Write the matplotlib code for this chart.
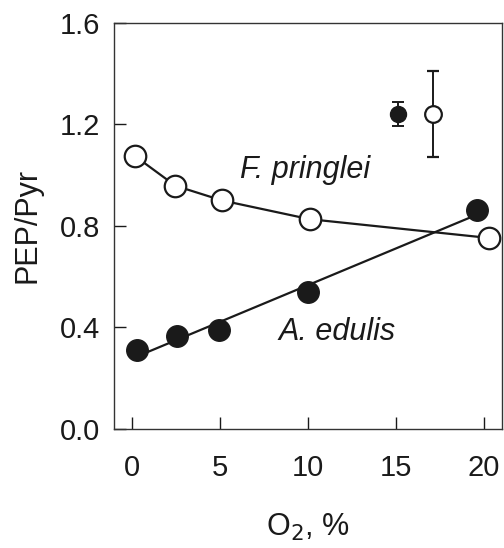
import numpy as np
import matplotlib
matplotlib.use("Agg")
import matplotlib.pyplot as plt

plt.rcParams["font.family"] = ["Liberation Sans", "DejaVu Sans"]

# F. pringlei (open circles)
fp_o2 = [0.15, 2.45, 5.1, 10.1, 20.3]
fp_ratio = [1.075, 0.958, 0.90, 0.826, 0.752]
# A. edulis (filled circles)
ae_o2 = [0.25, 2.55, 4.95, 10.0, 19.6]
ae_ratio = [0.308, 0.364, 0.389, 0.54, 0.862]
# separate points with error bars
err_o2 = [15.1, 17.1]
err_ratio = [1.24, 1.24]
err_sd = [0.048, 0.17]

fig = plt.figure(figsize=(5.04, 5.48), dpi=100)
ax = fig.add_axes([0.226, 0.218, 0.77, 0.74])

# linear fit for A. edulis
b, a = np.polyfit(ae_o2, ae_ratio, 1)
xfit = np.array([ae_o2[0], ae_o2[-1]])
ax.plot(xfit, a + b * xfit, color="#1a1a1a", lw=1.6, zorder=1)
ax.plot(fp_o2, fp_ratio, color="#1a1a1a", lw=1.6, zorder=1)

ax.plot(ae_o2, ae_ratio, "o", ms=15.5, mfc="#1a1a1a", mec="#1a1a1a", zorder=3)
ax.plot(fp_o2, fp_ratio, "o", ms=15.5, mfc="white", mec="#1a1a1a", mew=1.6, zorder=3)

ax.errorbar(err_o2[0], err_ratio[0], yerr=err_sd[0], fmt="o", ms=11.5,
            mfc="#1a1a1a", mec="#1a1a1a", ecolor="#1a1a1a", elinewidth=1.4,
            capsize=4.5, capthick=1.4, zorder=3)
ax.errorbar(err_o2[1], err_ratio[1], yerr=err_sd[1], fmt="o", ms=12,
            mfc="white", mec="#1a1a1a", mew=1.6, ecolor="#1a1a1a", elinewidth=1.4,
            capsize=4.5, capthick=1.4, zorder=3)

ax.text(6.13, 0.988, "F. pringlei", fontsize=22, style="italic", color="#1a1a1a")
ax.text(8.3, 0.348, "A. edulis", fontsize=22, style="italic", color="#1a1a1a")

ax.set_xlim(-1.05, 21.05)
ax.set_ylim(0, 1.6)
ax.set_xticks([0, 5, 10, 15, 20])
ax.set_yticks([0.0, 0.4, 0.8, 1.2, 1.6])
ax.set_yticklabels(["0.0", "0.4", "0.8", "1.2", "1.6"])
ax.tick_params(direction="in", length=8.5, width=1.0, labelsize=21,
               color="#1a1a1a", labelcolor="#1a1a1a")
ax.tick_params(axis="x", pad=18)
ax.tick_params(axis="y", pad=10)
for s in ax.spines.values():
    s.set_linewidth(1.0)
    s.set_color("#333333")

ax.set_xlabel("O$_2$, %", fontsize=22, color="#1a1a1a", labelpad=22)
ax.set_ylabel("PEP/Pyr", fontsize=22, color="#1a1a1a")
ax.yaxis.set_label_coords(-0.185, 0.5)

fig.savefig("out.png", dpi=100)
